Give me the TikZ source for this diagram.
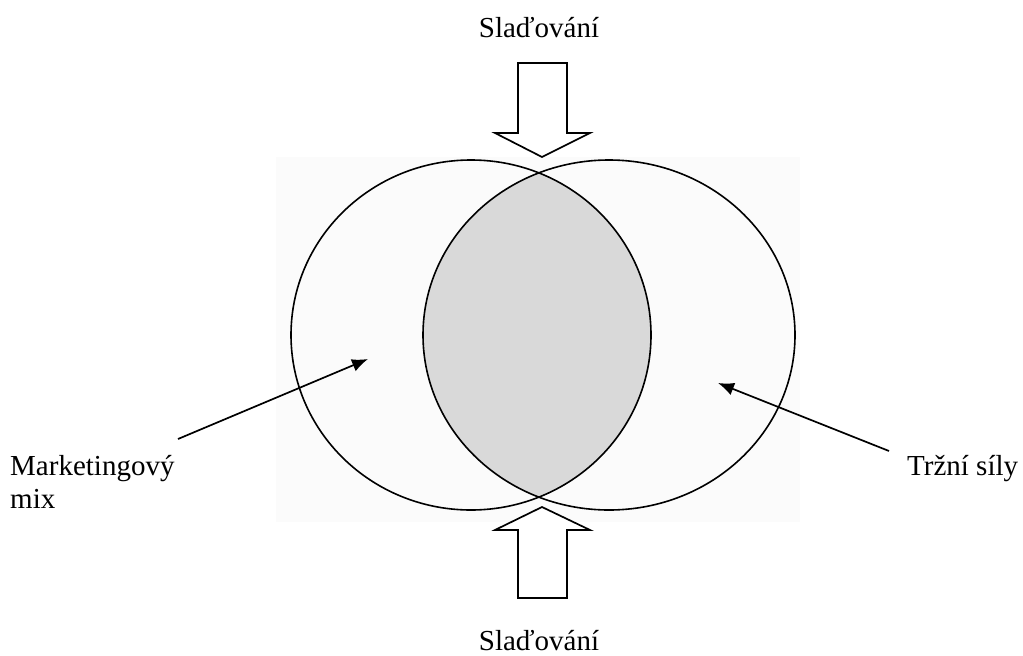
\documentclass[tikz,border=0pt]{standalone}
\usepackage{fontspec}
\setmainfont{Liberation Serif}
\usetikzlibrary{arrows.meta}
\begin{document}
\begin{tikzpicture}[x=1pt,y=-1pt,
  lbl/.style={font=\fontsize{29}{33}\selectfont, inner sep=0pt},
  ell/.style={draw=black, line width=1.6pt},
  blockarrow/.style={draw=black, line width=1.7pt, fill=white, line join=miter},
  pointer/.style={draw=black, line width=1.7pt, -{Latex[length=16pt,width=13pt]}}]
\useasboundingbox (0,0) rectangle (1023,656);
\fill[white] (0,0) rectangle (1023,656);
% faint background panel
\fill[black!1.5] (276,157) rectangle (800,522);
% lens
\begin{scope}
  \clip (471,335) ellipse [x radius=180, y radius=175];
  \fill[black!15] (609,335) ellipse [x radius=186, y radius=175];
\end{scope}
\draw[ell] (471,335) ellipse [x radius=180, y radius=175];
\draw[ell] (609,335) ellipse [x radius=186, y radius=175];
% block arrows
\draw[blockarrow] (518,63) -- (567,63) -- (567,133) -- (590,133) -- (542,157) -- (495,133) -- (518,133) -- cycle;
\draw[blockarrow] (542,507) -- (590,530) -- (567,530) -- (567,598) -- (518,598) -- (518,530) -- (495,530) -- cycle;
% labels
\node[lbl, anchor=base] (top) at (539,37) {Slaďování};
\node[lbl, anchor=base] (bottom) at (539,650) {Slaďování};
\node[lbl, anchor=base west] (mm) at (10,475) {Marketingový};
\node[lbl, anchor=base west] (mix) at (10,508) {mix};
\node[lbl, anchor=base west] (ts) at (907,475) {Tržní síly};
% pointers
\coordinate (lstart) at (178,439);
\coordinate (ltip) at (368,359);
\coordinate (rstart) at (889,451);
\coordinate (rtip) at (718,383);
\draw[pointer] (lstart) -- (ltip);
\draw[pointer] (rstart) -- (rtip);
\end{tikzpicture}
\end{document}
